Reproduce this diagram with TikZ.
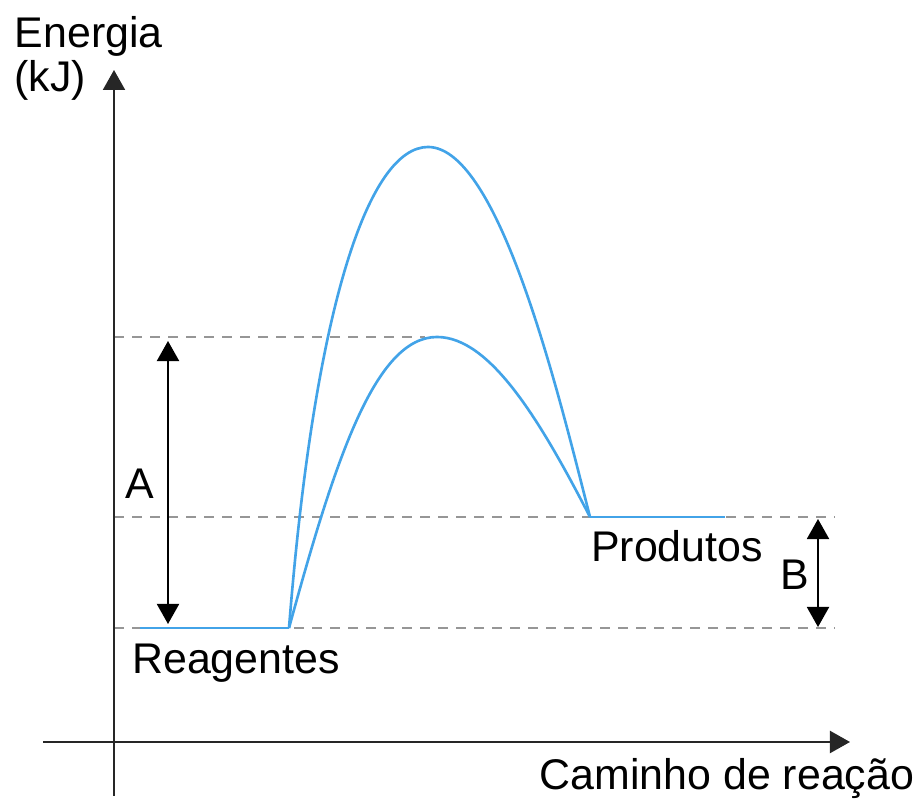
\documentclass[tikz,border=0pt]{standalone}
\usepackage{fontspec}
\setmainfont{Liberation Sans}
\usetikzlibrary{arrows.meta}
\definecolor{curveblue}{RGB}{66,163,232}
\definecolor{guidegray}{RGB}{150,150,150}
\begin{document}
\begin{tikzpicture}[x=0.01cm,y=-0.01cm,
        >={Triangle[length=0.2cm,width=0.22cm]},
        every node/.style={font=\fontsize{12.2pt}{14pt}\selectfont, inner sep=0pt},
        axis/.style={line width=0.6pt, black!85},
        guide/.style={guidegray, line width=0.4pt, dash pattern=on 0.1cm off 0.08cm},
        path/.style={curveblue, line width=0.75pt},
        gap/.style={line width=0.55pt, <->}]
        \useasboundingbox (0,0) rectangle (918,804);

        % axes
        \coordinate (yBottom) at (114,796);
        \coordinate (yTop) at (114,70);
        \coordinate (xLeft) at (43,742);
        \coordinate (xRight) at (850,742);

        % levels
        \coordinate (reagStart) at (140,628);
        \coordinate (reagEnd) at (289,628);
        \coordinate (prodStart) at (590,517);
        \coordinate (prodEnd) at (725,517);
        \coordinate (peakHigh) at (428,147);
        \coordinate (peakLow) at (437,337);

        \draw[guide] (114,337) -- (425,337);
        \draw[guide] (114,517) -- (835,517);
        \draw[guide] (114,628) -- (835,628);

        \draw[axis,->] (yBottom) -- (yTop);
        \draw[axis,->] (xLeft) -- (xRight);

        \draw[path] (reagStart) -- (reagEnd);
        \draw[path] (prodStart) -- (prodEnd);
        \draw[path] (reagEnd) .. controls (315,300) and (370,147) .. (peakHigh)
            .. controls (500,147) and (560,400) .. (prodStart);
        \draw[path] (reagEnd) .. controls (335,460) and (375,337) .. (peakLow)
            .. controls (490,337) and (540,420) .. (prodStart);

        % energy gaps
        \coordinate (aTop) at (168,341);
        \coordinate (aBottom) at (168,624);
        \coordinate (bTop) at (818,519);
        \coordinate (bBottom) at (818,627);
        \draw[gap] (aTop) -- (aBottom);
        \draw[gap] (bTop) -- (bBottom);

        \node (labelA) at (140,484) {A};
        \node (labelB) at (795,575) {B};

        \node (reagentes) at (236,663) {Reagentes};
        \node (produtos) at (677,546) {Produtos};
        \node (xLabel) at (727,779) {Caminho de reação};
        \node[align=left, anchor=north west,
            font=\fontsize{12.2pt}{10pt}\selectfont] (yLabel) at (14,16) {Energia\\(kJ)};
    \end{tikzpicture}
\end{document}
